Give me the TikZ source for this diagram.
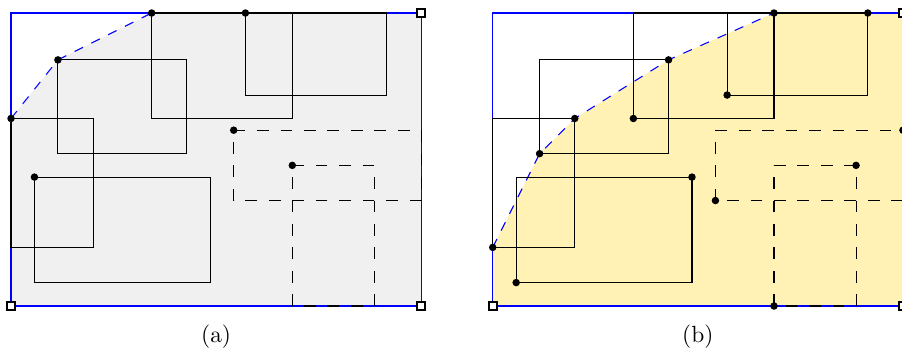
\documentclass[tikz,border=0pt]{standalone}
\usepackage{amsmath,amssymb}
\usepackage{tikz}
\definecolor{hullgray}{RGB}{240,240,240}
\definecolor{hullyellow}{RGB}{255,242,180}

\begin{document}
\begin{tikzpicture}[x=5pt, y=5pt, every node/.style={font=\normalsize}, line width=0.45pt,
	box/.style={blue, line width=0.5pt},
	hull/.style={blue, line width=0.45pt, dash pattern=on 4pt off 4pt},
	dashbox/.style={dash pattern=on 5pt off 5pt},
	corner/.style={draw, fill=white, line width=0.8pt, minimum size=3.5pt, inner sep=0pt}]
	\useasboundingbox (-0.94,-3.92) rectangle (76.02,26.11);
	\fill[hullgray] (0,16) -- (4,21) -- (12,25) -- (35,25) -- (35,0) -- (0,0) -- cycle;
	\draw[box] (0,0) rectangle (35,25);
	\draw[hull] (0,16) -- (4,21) -- (12,25);
	\draw (12,16) rectangle (24,25);
	\draw (20,18) rectangle (32,25);
	\draw (4,13) rectangle (15,21);
	\draw (0,5) rectangle (7,16);
	\draw (2,2) rectangle (17,11);
	\draw[dashbox] (19,15) -- (35,15) -- (35,9) -- (19,9) -- cycle;
	\draw[dashbox] (24,12) -- (31,12) -- (31,0) -- (24,0) -- cycle;
	\fill (12,25) circle (1.6pt) (20,25) circle (1.6pt) (4,21) circle (1.6pt) (0,16) circle (1.6pt)
		(2,11) circle (1.6pt) (19,15) circle (1.6pt) (24,12) circle (1.6pt);
	\node[corner] (a-ne) at (35,25) {};
	\node[corner] (a-sw) at (0,0) {};
	\node[corner] (a-se) at (35,0) {};
	\node (a-cap) at (17.5,-2.62) {(a)};
	\begin{scope}[xshift=205.5pt]
		\fill[hullyellow] (0,5) -- (4,13) -- (7,16) -- (15,21) -- (24,25) -- (35,25) -- (35,0) -- (0,0) -- cycle;
		\draw[box] (0,0) rectangle (35,25);
		\draw[hull] (0,5) -- (4,13) -- (7,16) -- (15,21) -- (24,25);
		\draw (12,16) rectangle (24,25);
		\draw (20,18) rectangle (32,25);
		\draw (4,13) rectangle (15,21);
		\draw (0,5) rectangle (7,16);
		\draw (2,2) rectangle (17,11);
		\draw[dashbox] (19,15) -- (35,15) -- (35,9) -- (19,9) -- cycle;
		\draw[dashbox] (24,12) -- (31,12) -- (31,0) -- (24,0) -- cycle;
		\fill (24,25) circle (1.6pt) (12,16) circle (1.6pt) (32,25) circle (1.6pt) (20,18) circle (1.6pt)
			(15,21) circle (1.6pt) (4,13) circle (1.6pt) (7,16) circle (1.6pt) (0,5) circle (1.6pt)
			(17,11) circle (1.6pt) (2,2) circle (1.6pt) (35,15) circle (1.6pt) (19,9) circle (1.6pt)
			(31,12) circle (1.6pt) (24,0) circle (1.6pt);
		\node[corner] (b-ne) at (35,25) {};
		\node[corner] (b-sw) at (0,0) {};
		\node[corner] (b-se) at (35,0) {};
		\node (b-cap) at (17.5,-2.62) {(b)};
	\end{scope}
\end{tikzpicture}
\end{document}
